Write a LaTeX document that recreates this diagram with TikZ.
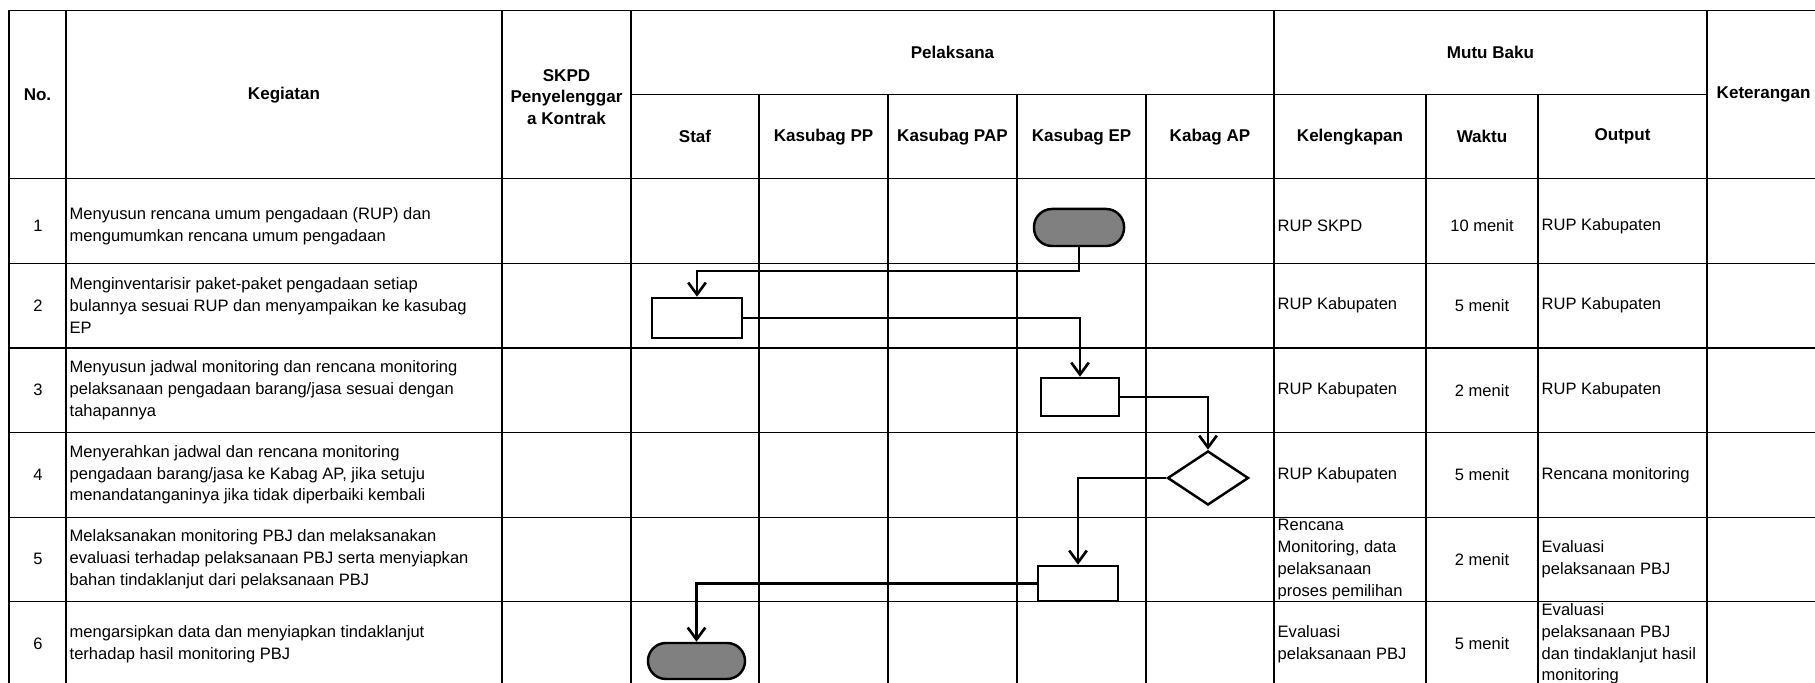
\documentclass[tikz,border=0pt]{standalone}
\usepackage{fontspec}
\setmainfont{Liberation Sans}
\usetikzlibrary{shapes.geometric,arrows.meta}
\definecolor{termgray}{HTML}{808080}

\tikzset{
  garis/.style={line width=0.35pt},
  hd/.style={font=\fontsize{4.85}{6.2}\selectfont\bfseries, align=center, inner sep=0pt},
  txt/.style={font=\fontsize{4.7}{6.2}\selectfont, align=left, anchor=west, inner sep=0pt},
  num/.style={font=\fontsize{4.7}{6.2}\selectfont, align=center, inner sep=0pt},
  proses/.style={draw, line width=0.7pt, rectangle, inner sep=0pt},
  terminal/.style={draw, line width=0.7pt, fill=termgray, rectangle, rounded corners=0.18cm, inner sep=0pt},
  keputusan/.style={draw, line width=0.7pt, diamond, inner sep=0pt},
  alur/.style={line width=0.75pt, -{Straight Barb[length=3.4pt,width=5pt]}},
}

\begin{document}
\begin{tikzpicture}[x=0.01cm,y=-0.01cm]
\useasboundingbox (0,0) rectangle (1815,683);
% tabel
\draw[garis] (9,10.5) -- (1815,10.5);
\draw[garis] (631,94.3) -- (1707,94.3);
\draw[garis] (9,178.7) -- (1815,178.7);
\foreach \y in {263.3,432.6,517.2,601.8}
  \draw[garis] (9,\y) -- (1815,\y);
\draw[line width=0.8pt] (9,348) -- (1815,348);
\foreach \x in {9,66,502,631,1274,1707}
  \draw[garis] (\x,10.5) -- (\x,690);
\foreach \x in {759,888,1017,1146,1426,1538}
  \draw[garis] (\x,94.3) -- (\x,690);

% judul kolom
\node[hd] (hNo) at (37.5,94.8) {No.};
\node[hd] (hKeg) at (284,94.8) {Kegiatan};
\node[hd] (hSkpd) at (566.5,97) {SKPD\\Penyelenggar\\a Kontrak};
\node[hd] (hPel) at (952.5,52.4) {Pelaksana};
\node[hd] (hMutu) at (1490.5,52.4) {Mutu Baku};
\node[hd,anchor=west] (hKet) at (1716,94.5) {Keterangan};
\node[hd] (hStaf) at (695,136.7) {Staf};
\node[hd] (hPP) at (823.5,136.7) {Kasubag PP};
\node[hd] (hPAP) at (952.5,136.7) {Kasubag PAP};
\node[hd] (hEP) at (1081.5,136.7) {Kasubag EP};
\node[hd] (hAP) at (1210,136.7) {Kabag AP};
\node[hd] (hLengkap) at (1350,136.7) {Kelengkapan};
\node[hd] (hWaktu) at (1482,136.7) {Waktu};
\node[hd] (hOut) at (1622.5,136.7) {Output};

% isi
\foreach \i/\w/\yy in {1/10 menit/226,2/5 menit/305.6,3/2 menit/390.2,4/5 menit/474.8,5/2 menit/559.4,6/5 menit/644}{
  \node[num] (n\i) at (38,\yy) {\i};
  \node[num] (w\i) at (1482,\yy) {\w};
}
\node[txt] (k1) at (69,226) {Menyusun rencana umum pengadaan (RUP) dan\\mengumumkan rencana umum pengadaan};
\node[txt] (k2) at (69,305.6) {Menginventarisir paket-paket pengadaan setiap\\bulannya sesuai RUP dan menyampaikan ke kasubag\\EP};
\node[txt] (k3) at (69,390.2) {Menyusun jadwal monitoring dan rencana monitoring\\pelaksanaan pengadaan barang/jasa sesuai dengan\\tahapannya};
\node[txt] (k4) at (69,474.8) {Menyerahkan jadwal dan rencana monitoring\\pengadaan barang/jasa ke Kabag AP, jika setuju\\menandatanganinya jika tidak diperbaiki kembali};
\node[txt] (k5) at (69,559.4) {Melaksanakan monitoring PBJ dan melaksanakan\\evaluasi terhadap pelaksanaan PBJ serta menyiapkan\\bahan tindaklanjut dari pelaksanaan PBJ};
\node[txt] (k6) at (69,644) {mengarsipkan data dan menyiapkan tindaklanjut\\terhadap hasil monitoring PBJ};

\node[txt] (l1) at (1277,226) {RUP SKPD};
\node[txt] (l2) at (1277,305.6) {RUP Kabupaten};
\node[txt] (l3) at (1277,390.2) {RUP Kabupaten};
\node[txt] (l4) at (1277,474.8) {RUP Kabupaten};
\begin{scope}
  \clip (1274,517.2) rectangle (1426,601.8);
  \node[txt] (l5) at (1277,559.4) {Rencana\\Monitoring, data\\pelaksanaan\\proses pemilihan};
\end{scope}
\node[txt] (l6) at (1277,644) {Evaluasi\\pelaksanaan PBJ};

\node[txt] (o1) at (1541,226) {RUP Kabupaten};
\node[txt] (o2) at (1541,305.6) {RUP Kabupaten};
\node[txt] (o3) at (1541,390.2) {RUP Kabupaten};
\node[txt] (o4) at (1541,474.8) {Rencana monitoring};
\node[txt] (o5) at (1541,559.4) {Evaluasi\\pelaksanaan PBJ};
\begin{scope}
  \clip (1538,601.8) rectangle (1707,690);
  \node[txt] (o6) at (1541,644) {Evaluasi\\pelaksanaan PBJ\\dan tindaklanjut hasil\\monitoring};
\end{scope}

% bagan alir
\node[terminal, minimum width=0.9cm, minimum height=0.37cm] (t1) at (1079,227.5) {};
\node[proses, minimum width=0.9cm, minimum height=0.4cm] (b1) at (697,318) {};
\node[proses, minimum width=0.78cm, minimum height=0.38cm] (b2) at (1080,397) {};
\node[keputusan, minimum width=0.81cm, minimum height=0.54cm] (d1) at (1208,478) {};
\node[proses, minimum width=0.8cm, minimum height=0.35cm] (b3) at (1078,583.5) {};
\node[terminal, minimum width=0.97cm, minimum height=0.36cm] (t2) at (696.5,661) {};

\draw[alur] (t1.south) -- (t1.south |- 0,271) -| (b1.north);
\draw[alur] (b1.east) -| (b2.north);
\draw[alur] (b2.east) -| (d1.north);
\draw[alur] (d1.west) -| (b3.north);
\draw[alur] (b3.west) -| (t2.north);
\end{tikzpicture}
\end{document}
